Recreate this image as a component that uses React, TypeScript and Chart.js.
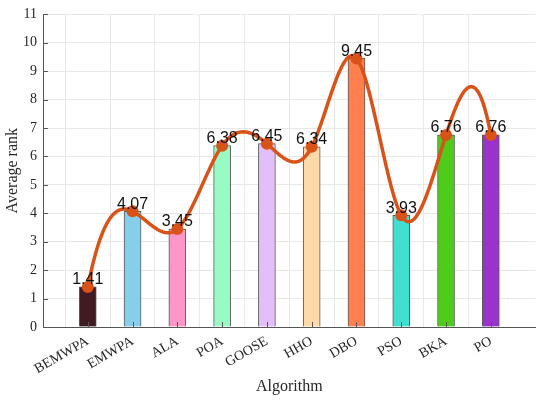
import { useEffect, useRef } from "react";
import { Chart, registerables } from "chart.js";

Chart.register(...registerables);

const algorithms = ["BEMWPA", "EMWPA", "ALA", "POA", "GOOSE", "HHO", "DBO", "PSO", "BKA", "PO"];
const averageRank = [1.41, 4.07, 3.45, 6.38, 6.45, 6.34, 9.45, 3.93, 6.76, 6.76];
const barColors = [
  "#421a22",
  "#87ceeb",
  "#ff96c8",
  "#98fbc4",
  "#e3bffa",
  "#ffd9a8",
  "#ff7f4f",
  "#40e0d0",
  "#4dcc1a",
  "#9933cc",
];
const yTicks = [0, 1, 2, 3, 4, 5, 6, 7, 8, 9, 10, 11];

const lineColor = "#d95319";
const serif = '"Liberation Serif", "Times New Roman", serif';

// second derivatives of a not-a-knot cubic spline on unit spacing
function splineM(y: number[]) {
  const n = y.length;
  const A: number[][] = [];
  const r: number[] = [];
  for (let i = 0; i < n; i++) {
    const row = new Array(n).fill(0);
    if (i === 0) {
      row[0] = 1; row[1] = -2; row[2] = 1;
      r.push(0);
    } else if (i === n - 1) {
      row[n - 3] = 1; row[n - 2] = -2; row[n - 1] = 1;
      r.push(0);
    } else {
      row[i - 1] = 1; row[i] = 4; row[i + 1] = 1;
      r.push(6 * (y[i - 1] - 2 * y[i] + y[i + 1]));
    }
    A.push(row);
  }
  // gaussian elimination with pivoting
  for (let c = 0; c < n; c++) {
    let p = c;
    for (let k = c + 1; k < n; k++) if (Math.abs(A[k][c]) > Math.abs(A[p][c])) p = k;
    [A[c], A[p]] = [A[p], A[c]];
    [r[c], r[p]] = [r[p], r[c]];
    for (let k = c + 1; k < n; k++) {
      const f = A[k][c] / A[c][c];
      if (!f) continue;
      for (let j = c; j < n; j++) A[k][j] -= f * A[c][j];
      r[k] -= f * r[c];
    }
  }
  const M = new Array(n).fill(0);
  for (let i = n - 1; i >= 0; i--) {
    let s = r[i];
    for (let j = i + 1; j < n; j++) s -= A[i][j] * M[j];
    M[i] = s / A[i][i];
  }
  return M;
}

const splineLine = {
  id: "splineLine",
  afterDatasetDraw(chart: any, args: any) {
    if (args.index !== 0) return;
    const xs = chart.scales.x;
    const ys = chart.scales.y;
    const y = averageRank;
    const M = splineM(y);
    const ctx = chart.ctx;
    ctx.save();
    ctx.strokeStyle = lineColor;
    ctx.lineWidth = 3.5;
    ctx.lineJoin = "round";
    ctx.lineCap = "round";
    ctx.beginPath();
    const steps = 30;
    for (let i = 0; i < y.length - 1; i++) {
      const b = y[i + 1] - y[i] - (2 * M[i] + M[i + 1]) / 6;
      for (let s = 0; s <= steps; s++) {
        if (i > 0 && s === 0) continue;
        const t = s / steps;
        const v = y[i] + b * t + (M[i] / 2) * t * t + ((M[i + 1] - M[i]) / 6) * t * t * t;
        const px = xs.getPixelForValue(i + 1 + t);
        const py = ys.getPixelForValue(v);
        if (i === 0 && s === 0) ctx.moveTo(px, py);
        else ctx.lineTo(px, py);
      }
    }
    ctx.stroke();
    ctx.restore();
  },
};

const tickMarks = {
  id: "tickMarks",
  afterDatasetsDraw(chart: any) {
    const { ctx, chartArea, scales } = chart;
    ctx.save();
    ctx.strokeStyle = "#555555";
    ctx.lineWidth = 1;
    ctx.beginPath();
    scales.x.ticks.forEach((_t: any, i: number) => {
      if (i === 0 || i === 11) return;
      const px = Math.round(scales.x.getPixelForTick(i)) + 0.5;
      ctx.moveTo(px, chartArea.bottom);
      ctx.lineTo(px, chartArea.bottom - 5);
    });
    scales.y.ticks.forEach((_t: any, i: number) => {
      const py = Math.round(scales.y.getPixelForTick(i)) + 0.5;
      ctx.moveTo(chartArea.left, py);
      ctx.lineTo(chartArea.left + 5, py);
    });
    ctx.stroke();
    ctx.restore();
  },
};

const valueLabels = {
  id: "valueLabels",
  afterDatasetsDraw(chart: any) {
    const meta = chart.getDatasetMeta(1);
    const ctx = chart.ctx;
    ctx.save();
    ctx.font = '16px "Liberation Sans", Arial, sans-serif';
    ctx.fillStyle = "#111111";
    ctx.textAlign = "center";
    ctx.textBaseline = "bottom";
    meta.data.forEach((pt: any, i: number) => {
      const v = chart.data.datasets[1].data[i];
      if (v == null) return;
      ctx.fillText(v.toFixed(2), pt.x, pt.y + 1);
    });
    ctx.restore();
  },
};

export default function App() {
  const canvasRef = useRef<HTMLCanvasElement | null>(null);

  useEffect(() => {
    document.body.style.margin = "0";
    if (!canvasRef.current) {
      return;
    }
    // empty slots at both ends leave a gap of one category before and after
    const labels = ["", ...algorithms, ""];
    const padded = [null, ...averageRank, null];

    const chart = new Chart(canvasRef.current, {
      type: "bar",
      data: {
        labels: labels,
        datasets: [
          {
            type: "bar",
            data: padded,
            backgroundColor: ["#fff", ...barColors, "#fff"],
            borderColor: "#5a5a5a",
            borderWidth: 1,
            barThickness: 17,
            order: 2,
          },
          {
            type: "line",
            data: padded,
            showLine: false,
            borderColor: lineColor,
            backgroundColor: lineColor,
            pointRadius: 6,
            pointBackgroundColor: lineColor,
            pointBorderWidth: 0,
            order: 1,
          } as any,
        ],
      },
      options: {
        animation: false,
        responsive: true,
        maintainAspectRatio: false,
        layout: { padding: { top: 13, right: 7, left: 0, bottom: 0 } },
        plugins: {
          legend: { display: false },
          tooltip: { enabled: false },
        },
        scales: {
          x: {
            offset: false,
            grid: {
              color: (c: any) => (c.index === 11 ? "rgba(0,0,0,0)" : "#e8e8e8"),
              drawTicks: false,
            },
            border: { color: "#555555", width: 1 },
            ticks: {
              autoSkip: false,
              minRotation: 30,
              maxRotation: 30,
              padding: 6,
              color: "#262626",
              font: { family: serif, size: 14 },
            },
            title: {
              display: true,
              text: "Algorithm",
              color: "#262626",
              padding: { top: 0, bottom: 5 },
              font: { family: serif, size: 16 },
            },
            afterFit: (scale: any) => {
              scale.height = 74;
            },
          },
          y: {
            min: 0,
            max: 11,
            afterBuildTicks: (scale: any) => {
              scale.ticks = yTicks.map((v) => ({ value: v }));
            },
            grid: { color: "#e8e8e8", drawTicks: false },
            border: { color: "#555555", width: 1 },
            ticks: {
              padding: 6,
              color: "#262626",
              font: { family: serif, size: 14 },
            },
            title: {
              display: true,
              text: "Average rank",
              color: "#262626",
              padding: { top: 3, bottom: 0 },
              font: { family: serif, size: 16 },
            },
            afterFit: (scale: any) => {
              scale.width = 43;
            },
          },
        },
      },
      plugins: [splineLine, tickMarks, valueLabels],
    });

    return () => {
      chart.destroy();
    };
  }, []);

  return (
    <div style={{ width: 550, height: 401, position: "relative", background: "#fff" }}>
      <canvas ref={canvasRef}></canvas>
    </div>
  );
}
